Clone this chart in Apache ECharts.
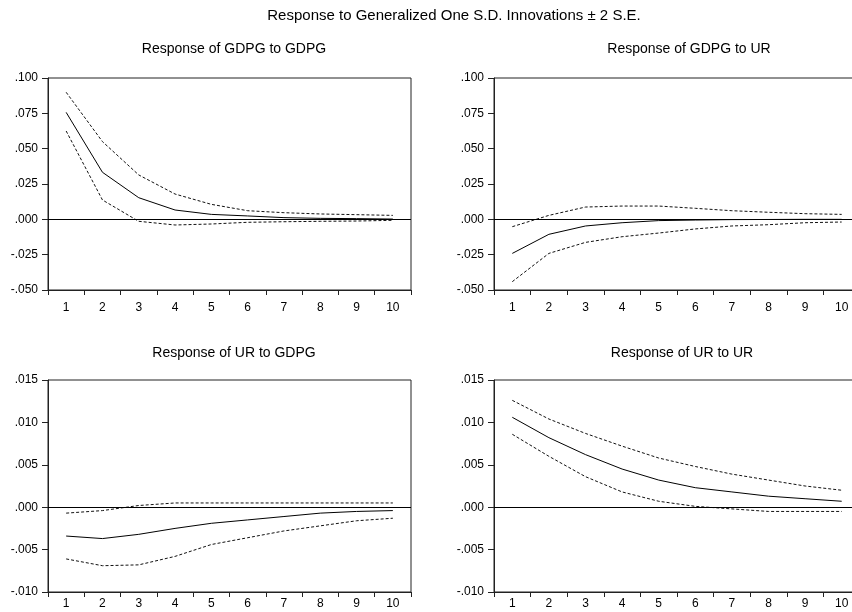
<!DOCTYPE html>
<html>
<head>
<meta charset="utf-8">
<script src="https://cdn.jsdelivr.net/npm/echarts@6/dist/echarts.min.js"></script>
<style>html,body{margin:0;padding:0;background:#fff}#c{width:852px;height:612px}</style>
</head>
<body>
<div id="c"></div>
<script>
const periods = ['1','2','3','4','5','6','7','8','9','10'];

const gdpgToGdpg      = [0.0757, 0.0333, 0.0153, 0.0066, 0.0035, 0.0024, 0.0012, 0.0007, 0.0005, 0.0002];
const gdpgToGdpgUpper = [0.0899, 0.0550, 0.0314, 0.0179, 0.0106, 0.0061, 0.0047, 0.0038, 0.0033, 0.0028];
const gdpgToGdpgLower = [0.0625, 0.0137, -0.0014, -0.0040, -0.0033, -0.0021, -0.0017, -0.0014, -0.0012, -0.0007];

const gdpgToUr      = [-0.0241, -0.0106, -0.0047, -0.0024, -0.0009, -0.0005, -0.0002, -0.0001, 0.0000, 0.0000];
const gdpgToUrUpper = [-0.0052, 0.0028, 0.0087, 0.0094, 0.0094, 0.0078, 0.0061, 0.0050, 0.0040, 0.0035];
const gdpgToUrLower = [-0.0441, -0.0241, -0.0163, -0.0123, -0.0097, -0.0068, -0.0047, -0.0038, -0.0024, -0.0019];

const urToGdpg      = [-0.0034, -0.0037, -0.0032, -0.0025, -0.0019, -0.0015, -0.0011, -0.0007, -0.0005, -0.0004];
const urToGdpgUpper = [-0.0007, -0.0004, 0.0002, 0.0005, 0.0005, 0.0005, 0.0005, 0.0005, 0.0005, 0.0005];
const urToGdpgLower = [-0.0061, -0.0069, -0.0068, -0.0058, -0.0044, -0.0036, -0.0028, -0.0022, -0.0016, -0.0013];

const urToUr      = [0.0106, 0.0082, 0.0062, 0.0045, 0.0032, 0.0023, 0.0018, 0.0013, 0.0010, 0.0007];
const urToUrUpper = [0.0126, 0.0104, 0.0087, 0.0072, 0.0058, 0.0048, 0.0039, 0.0032, 0.0025, 0.0020];
const urToUrLower = [0.0086, 0.0060, 0.0036, 0.0018, 0.0007, 0.0001, -0.0002, -0.0005, -0.0005, -0.0005];

const mainTitle = 'Response to Generalized One S.D. Innovations \u00b1 2 S.E.';
const panelTitles = ['Response of GDPG to GDPG', 'Response of GDPG to UR', 'Response of UR to GDPG', 'Response of UR to UR'];
const yRanges = [[-0.05, 0.1, 0.025], [-0.05, 0.1, 0.025], [-0.01, 0.015, 0.005], [-0.01, 0.015, 0.005]];
const panelData = [
  [gdpgToGdpg, gdpgToGdpgUpper, gdpgToGdpgLower],
  [gdpgToUr, gdpgToUrUpper, gdpgToUrLower],
  [urToGdpg, urToGdpgUpper, urToGdpgLower],
  [urToUr, urToUrUpper, urToUrLower]
];

const FONT = '"Liberation Sans", Arial, sans-serif';
const grids = [
  {left: 48, top: 78, width: 363, height: 212},
  {left: 494, top: 78, width: 366, height: 212},
  {left: 48, top: 380, width: 363, height: 212},
  {left: 494, top: 380, width: 366, height: 212}
];
const labelMargins = [12, 12, 6, 6];
const titlePos = [[229, 37], [684, 37], [229, 341], [677, 341]];

function fmt(v) {
  let s = v.toFixed(3);
  if (s === '-0.000') s = '0.000';
  return s.replace('0.', '.');
}

const option = {
  backgroundColor: '#fff',
  animation: false,
  title: [{text: mainTitle, left: 449, top: 3, textAlign: 'center',
           textStyle: {fontFamily: FONT, fontSize: 15, fontWeight: 'normal', color: '#000'}}]
    .concat(panelTitles.map((t, i) => ({
      text: t, left: titlePos[i][0], top: titlePos[i][1], textAlign: 'center',
      textStyle: {fontFamily: FONT, fontSize: 14, fontWeight: 'normal', color: '#000'}
    }))),
  grid: grids.map(g => Object.assign({show: true, borderColor: '#222', borderWidth: 1,
                                      backgroundColor: '#fff', containLabel: false,
                                      outerBoundsMode: 'none'}, g)),
  xAxis: grids.map((g, i) => ({
    type: 'category', gridIndex: i, data: periods, boundaryGap: true,
    axisLine: {onZero: false, lineStyle: {color: '#222'}},
    axisTick: {show: true, inside: false, length: 5, lineStyle: {color: '#222'}},
    axisLabel: {fontFamily: FONT, fontSize: 12, color: '#000', margin: labelMargins[i]},
    splitLine: {show: false}
  })),
  yAxis: grids.map((g, i) => ({
    type: 'value', gridIndex: i, min: yRanges[i][0], max: yRanges[i][1], interval: yRanges[i][2],
    axisLine: {show: true, onZero: false, lineStyle: {color: '#222'}},
    axisTick: {show: true, length: 6, lineStyle: {color: '#222'}},
    axisLabel: {fontFamily: FONT, fontSize: 12, color: '#000', margin: 10, formatter: fmt},
    splitLine: {show: false}
  })),
  series: []
};

panelData.forEach((d, i) => {
  option.series.push({
    type: 'line', xAxisIndex: i, yAxisIndex: i, data: d[0], symbol: 'none',
    lineStyle: {color: '#000', width: 1}, z: 3,
    markLine: {silent: true, symbol: 'none', label: {show: false},
               lineStyle: {color: '#000', width: 1, type: 'solid'}, data: [{yAxis: 0}]}
  });
  option.series.push({
    type: 'line', xAxisIndex: i, yAxisIndex: i, data: d[1], symbol: 'none',
    lineStyle: {color: '#111', width: 1, type: [3, 2]}
  });
  option.series.push({
    type: 'line', xAxisIndex: i, yAxisIndex: i, data: d[2], symbol: 'none',
    lineStyle: {color: '#111', width: 1, type: [3, 2]}
  });
});

const chart = echarts.init(document.getElementById('c'));
chart.setOption(option);
</script>
</body>
</html>
